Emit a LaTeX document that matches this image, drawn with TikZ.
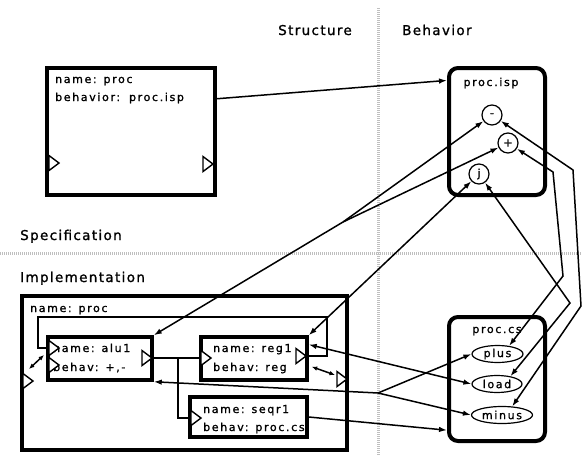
\documentclass[tikz,border=0pt]{standalone}
\usepackage{fontspec}
\setmainfont{DejaVu Sans}
\newfontfamily\headfont[LetterSpace=10,FakeBold=1.2]{DejaVu Sans}
\newfontfamily\boxfont[LetterSpace=15,FakeBold=1.2]{DejaVu Sans}
\usetikzlibrary{arrows.meta,calc,shapes.geometric}

\begin{document}
\begin{tikzpicture}[x=1pt,y=-1pt,
  >={Latex[length=8pt,width=5.5pt]},
  head/.style={anchor=base west,inner sep=0pt,font=\headfont\fontsize{13.5}{16}\selectfont},
  txt/.style={anchor=base west,inner sep=0pt,font=\boxfont\fontsize{11}{13}\selectfont},
  blk/.style={draw,line width=3.5pt,inner sep=0pt},
  beh/.style={draw,line width=4pt,rounded corners=9pt,inner sep=0pt},
  op/.style={circle,draw,line width=1.2pt,minimum size=20pt,inner sep=0pt,font=\boxfont\fontsize{11}{13}\selectfont},
  st/.style={ellipse,draw,line width=1.2pt,minimum height=17pt,inner sep=0pt,font=\boxfont\fontsize{11}{13}\selectfont},
  sep/.style={gray!50,line width=3pt,dash pattern=on 1pt off 1pt},
  wire/.style={line width=1.2pt},
  link/.style={line width=1.5pt},
  small/.style={>={Latex[length=5.5pt,width=4.5pt]}},
  port/.pic={\draw[fill=white,line width=1.4pt] (0,-7.5) -- (10,0) -- (0,7.5) -- cycle;
    \coordinate (-base) at (0,0); \coordinate (-tip) at (10,0);}]
\useasboundingbox (0,0) rectangle (582,455);

% separators
\draw[sep] (378,8) -- (378,455);
\draw[sep] (0,253) -- (582,253);

\node[head] (hstruct) at (278,35) {Structure};
\node[head] (hbeh) at (402,35) {Behavior};
\node[head] (hspec) at (20,240) {Specification};
\node[head] (himpl) at (20,282) {Implementation};

% specification
\node[blk,line width=4pt,minimum width=168pt,minimum height=127pt] (topproc) at (131,131.5) {};
\node[txt] (topname) at (55,83) {name: proc};
\node[txt] (topbeh) at (55,101) {behavior:\hspace{2pt} proc.isp};
\pic (top-in) at (49,163) {port};
\pic (top-out) at (203,164) {port};

\node[beh,minimum width=96pt,minimum height=127pt] (isp) at (497,131.5) {};
\node[txt,anchor=base] (isplabel) at (491,86) {proc.isp};
\node[op] (opminus) at (492,115) {-};
\node[op] (opplus) at (508,143) {+};
\node[op] (opj) at (479,174) {j};

% implementation
\node[blk,line width=4pt,minimum width=325pt,minimum height=154pt] (implproc) at (184.5,373) {};
\node[txt] (implname) at (30,312) {name: proc};
\pic (impl-in) at (23,381) {port};
\pic (impl-out) at (337,379) {port};

\node[blk,minimum width=104pt,minimum height=43pt] (alu) at (100,358.5) {};
\node[txt] (aluname) at (53,352) {name: alu1};
\node[txt] (alubeh) at (53,371) {behav: +,-};
\pic (alu-in1) at (49,348) {port};
\pic (alu-in2) at (49,365) {port};
\pic (alu-out) at (142,358) {port};

\node[blk,minimum width=106pt,minimum height=43pt] (reg) at (254,358.5) {};
\node[txt] (regname) at (213,352) {name: reg1};
\node[txt] (regbeh) at (213,371) {behav: reg};
\pic (reg-in) at (201,358) {port};
\pic (reg-out) at (296,356) {port};

\node[blk,minimum width=117pt,minimum height=40pt] (seqr) at (248.5,417) {};
\node[txt] (seqrname) at (203,413) {name: seqr1};
\node[txt] (seqrbeh) at (203,431) {behav: proc.cs};
\pic (seqr-in) at (191,418) {port};

\node[beh,minimum width=96pt,minimum height=124pt] (cs) at (497,379) {};
\node[txt,anchor=base] (cslabel) at (497,333) {proc.cs};
\node[st,minimum width=51pt] (csplus) at (497.5,354) {plus};
\node[st,minimum width=50pt] (csload) at (497,384) {load};
\node[st,minimum width=61pt] (csminus) at (502,415) {minus};

% wires
\draw[wire] (reg-out-tip) -| ($(reg-out-tip)+(21,-39)$) -| ($(alu-in1-base)+(-11,0)$) -- (alu-in1-base);
\draw[wire] (alu-out-tip) -- (reg-in-base);
\coordinate (br) at ($(alu-out-tip)!0.53!(reg-in-base)$);
\draw[wire] (br) |- (seqr-in-base);

% links
\draw[link,->] ($(topproc.north east)!0.25!(topproc.south east)$) -- ($(isp.north west)!0.11!(isp.south west)$);
\coordinate (f1) at (343,222);
\draw[link,->] (f1) -- (opminus);
\draw[link,->] (f1) -- (opplus);
\draw[link,->] (f1) -- (alu.north east);
\draw[link,<->] (reg.north east) -- (opj);
\draw[link,<->] (opminus) -- (573,170) -- (581,306) -- (csminus.40);
\draw[link,<->] (opplus) -- (553,172) -- (563,276) -- (csplus.35);
\draw[link,<->] (opj) -- (570,303) -- (csload.30);
\coordinate (f2) at (378,393);
\draw[link,->] (f2) -- (csplus.west);
\draw[link,->] (f2) -- (csminus.west);
\draw[link,->] (f2) -- (alu.south east);
\draw[link,<->] ($(reg.north east)!0.2!(reg.south east)$) -- (csload.west);
\draw[link,->] (seqr.east) -- ($(cs.north west)!0.9!(cs.south west)$);
\draw[link,small,<->] ($(impl-in-tip)+(-4,-12)$) -- ($(alu-in2-base)+(-5,-10)$);
\draw[link,small,<->] ($(reg.south east)+(3,-15)$) -- ($(impl-out-base)+(-2,-4)$);
\end{tikzpicture}
\end{document}
